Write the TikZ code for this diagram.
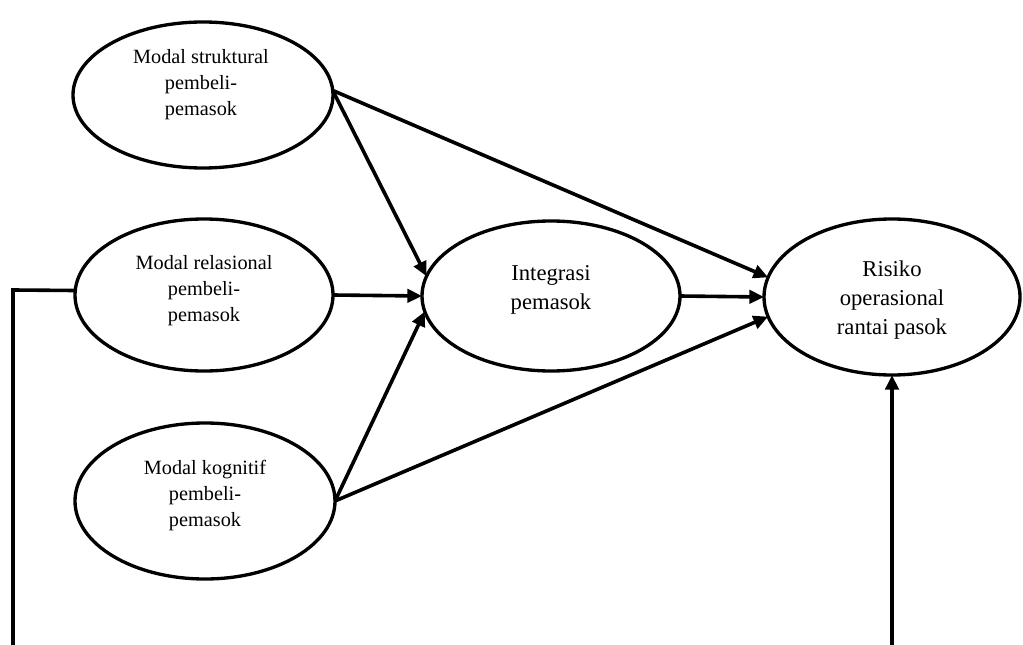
\documentclass[tikz,border=0pt]{standalone}
\usepackage{fontspec}
\setmainfont{Liberation Serif}
\usetikzlibrary{shapes.geometric,arrows.meta}
\begin{document}
\begin{tikzpicture}[x=0.75pt,y=-0.75pt,
  latent/.style 2 args={draw,ellipse,line width=2.5pt,inner sep=0pt,outer sep=0pt,
    minimum width={#1*0.75pt},minimum height={#2*0.75pt}},
  smalltxt/.style={align=center,inner sep=0pt,font=\fontsize{15.2pt}{19.5pt}\selectfont},
  bigtxt/.style={align=center,inner sep=0pt,font=\fontsize{17pt}{22pt}\selectfont},
  link/.style={line width=2.7pt},
  path/.style={line width=2.7pt,-{Triangle[length=11pt,width=10pt]}}]
\useasboundingbox (0,0) rectangle (1023,645);

% constructs
\node[latent={260}{146}] (str) at (203,95) {};
\node[latent={258}{152}] (rel) at (204,295) {};
\node[latent={260}{156}] (kog) at (205,501) {};
\node[latent={258}{150}] (int) at (551,296) {};
\node[latent={256}{156}] (ris) at (892,297) {};

% construct names
\node[smalltxt] (strT) at (201,85) {Modal struktural\\pembeli-\\pemasok};
\node[smalltxt] (relT) at (204,291) {Modal relasional\\pembeli-\\pemasok};
\node[smalltxt] (kogT) at (205,496) {Modal kognitif\\pembeli-\\pemasok};
\node[bigtxt] (intT) at (551,290) {Integrasi\\pemasok};
\node[bigtxt] (risT) at (892,300) {Risiko\\operasional\\rantai pasok};

% structural paths
\draw[path] (str.2) -- (int.171);
\draw[path] (str.2) -- (ris.171);
\draw[path] (rel.east) -- (int.west);
\draw[path] (kog.east) -- (int.187.5);
\draw[path] (kog.east) -- (ris.189.5);
\draw[path] (int.east) -- (ris.west);

% outer feedback lines
\coordinate (cornerL) at (13,290);
\coordinate (bottomL) at (13,645);
\coordinate (bottomR) at (ris.south |- bottomL);
\draw[link] (rel.178) -- (cornerL) -- (bottomL);
\draw[path] (bottomR) -- (ris.south);
\end{tikzpicture}
\end{document}
